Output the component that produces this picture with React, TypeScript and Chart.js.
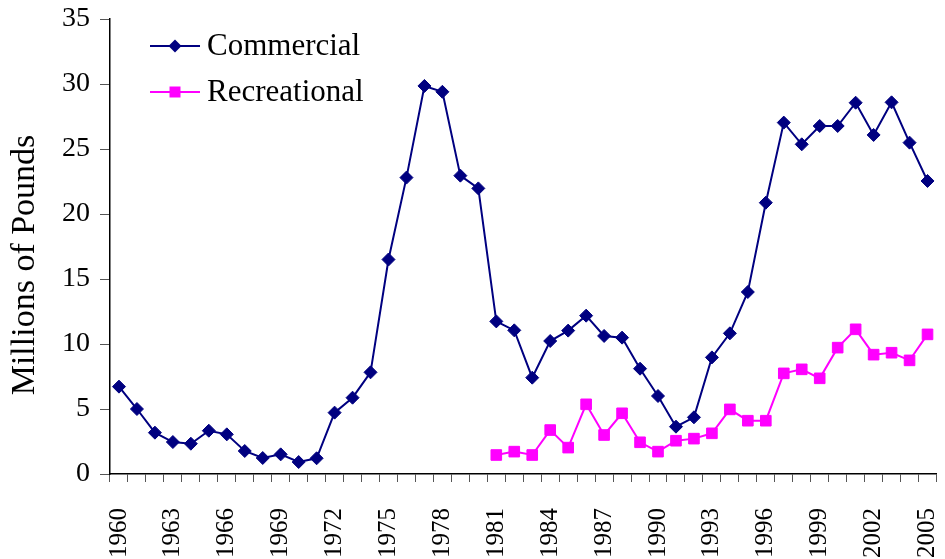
import React, { useEffect, useRef } from 'react';
import { Chart, registerables } from 'chart.js';
Chart.register(...registerables);

const years = ['1960','1961','1962','1963','1964','1965','1966','1967','1968','1969','1970','1971','1972','1973','1974','1975','1976','1977','1978','1979','1980','1981','1982','1983','1984','1985','1986','1987','1988','1989','1990','1991','1992','1993','1994','1995','1996','1997','1998','1999','2000','2001','2002','2003','2004','2005'];

const commercial = [6.72, 5.0, 3.18, 2.46, 2.33, 3.33, 3.05, 1.77, 1.23, 1.51, 0.92, 1.21, 4.72, 5.87, 7.82, 16.5, 22.8, 29.85, 29.4, 22.95, 21.97, 11.74, 11.05,
  7.41, 10.23, 11.03, 12.18, 10.62, 10.49, 8.1, 6.0, 3.64, 4.36, 8.97, 10.82, 14.0, 20.87, 27.03, 25.36, 26.77, 26.77, 28.56, 26.08, 28.59, 25.49, 22.54];

const recreational = [null, null, null, null, null, null, null, null, null, null, null, null, null, null, null, null, null, null, null, null, null,
  1.46, 1.72, 1.46, 3.38, 2.03, 5.36, 3.0, 4.67, 2.44, 1.72, 2.56, 2.72, 3.13, 4.97, 4.1, 4.1, 7.74, 8.05, 7.36, 9.72, 11.13, 9.18, 9.33, 8.74, 10.74];

const seriesNames = ['Commercial', 'Recreational'];
const seriesColors = ['#000080', '#FF00FF'];
const yTitle = 'Millions of Pounds';

const FONT = '"Liberation Serif", "Times New Roman", serif';

const legendPlugin = {
  id: 'insideLegend',
  afterDraw(chart: any) {
    const ctx = chart.ctx;
    ctx.save();
    const rows = [46, 92];
    rows.forEach((y, i) => {
      const color = seriesColors[i];
      ctx.strokeStyle = color;
      ctx.fillStyle = color;
      ctx.lineWidth = 2;
      ctx.beginPath();
      ctx.moveTo(150, y);
      ctx.lineTo(200, y);
      ctx.stroke();
      ctx.beginPath();
      if (i === 0) {
        const r = 6.5;
        ctx.moveTo(175, y - r);
        ctx.lineTo(175 + r, y);
        ctx.lineTo(175, y + r);
        ctx.lineTo(175 - r, y);
        ctx.closePath();
      } else {
        const s = 5.5;
        ctx.rect(175 - s, y - s, 2 * s, 2 * s);
      }
      ctx.fill();
      ctx.fillStyle = '#000';
      ctx.font = `31px ${FONT}`;
      ctx.textBaseline = 'middle';
      ctx.textAlign = 'left';
      ctx.fillText(seriesNames[i], 207, y + 1);
    });
    // y-axis title
    ctx.translate(25, 265);
    ctx.rotate(-Math.PI / 2);
    ctx.fillStyle = '#000';
    ctx.font = `34px ${FONT}`;
    ctx.textAlign = 'center';
    ctx.textBaseline = 'middle';
    ctx.fillText(yTitle, 0, 0);
    ctx.restore();
  },
};

export default function App() {
  const ref = useRef<HTMLCanvasElement | null>(null);
  useEffect(() => {
    document.body.style.margin = '0';
    const canvas = ref.current!;
    const chart = new Chart(canvas, {
      type: 'line',
      data: {
        labels: years,
        datasets: [
          {
            label: seriesNames[0],
            data: commercial,
            borderColor: seriesColors[0],
            backgroundColor: seriesColors[0],
            borderWidth: 2,
            pointStyle: 'rectRot',
            pointRadius: 6.5,
            pointBorderWidth: 1,
            tension: 0,
          },
          {
            label: seriesNames[1],
            data: recreational,
            borderColor: seriesColors[1],
            backgroundColor: seriesColors[1],
            borderWidth: 2,
            pointStyle: 'rect',
            pointRadius: 7.5,
            pointBorderWidth: 1,
            tension: 0,
          },
        ],
      },
      options: {
        responsive: false,
        animation: false,
        layout: { padding: { top: 19, right: 5, left: 0, bottom: 0 } },
        plugins: { legend: { display: false }, tooltip: { enabled: false } },
        scales: {
          x: {
            type: 'category',
            offset: true,
            grid: { offset: true, drawOnChartArea: false, drawTicks: true, tickLength: 8, color: '#555' },
            border: { color: '#000', width: 1.5 },
            ticks: {
              autoSkip: false,
              minRotation: 90,
              maxRotation: 90,
              padding: 26,
              color: '#000',
              font: { family: FONT, size: 25 },
              callback: (_v: any, idx: number) => (idx % 3 === 0 ? years[idx] : ''),
            },
            afterFit: (scale: any) => {
              scale.height = 85;
              scale.paddingLeft = 0;
              scale.paddingRight = 0;
            },
          },
          y: {
            min: 0,
            max: 35,
            grid: { drawOnChartArea: false, drawTicks: true, tickLength: 10, color: '#555' },
            border: { color: '#000', width: 1.5 },
            ticks: {
              stepSize: 5,
              padding: 10,
              color: '#000',
              font: { family: FONT, size: 28 },
            },
            afterFit: (scale: any) => {
              scale.width = 110;
              scale.paddingTop = 0;
              scale.paddingBottom = 0;
            },
          },
        },
      },
      plugins: [legendPlugin],
    });
    return () => chart.destroy();
  }, []);
  return <canvas ref={ref} width={945} height={559} style={{ display: 'block' }} />;
}
